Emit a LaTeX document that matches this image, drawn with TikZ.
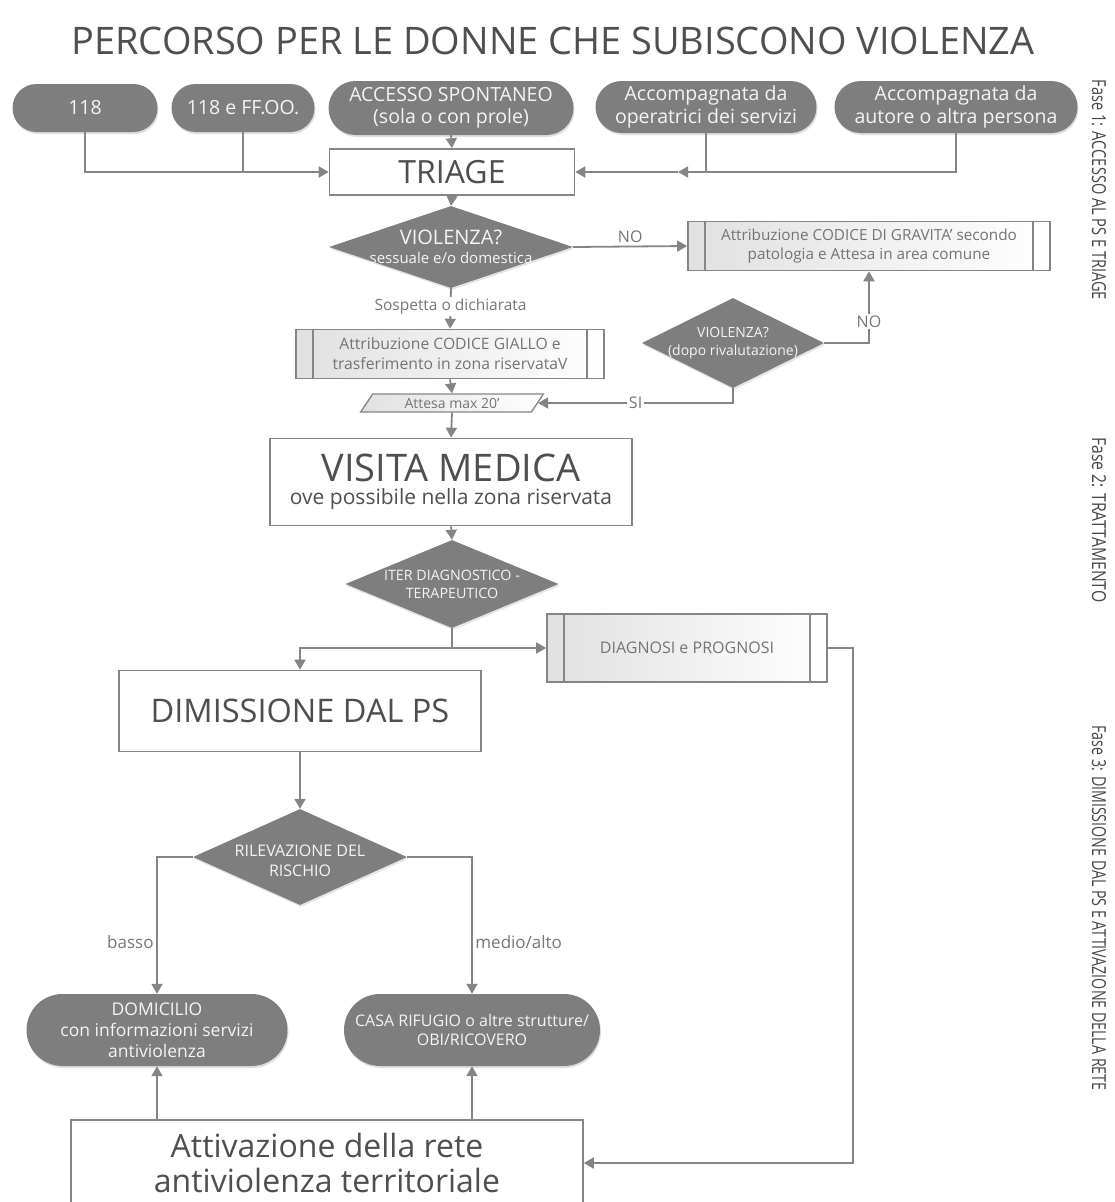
\documentclass[tikz,border=0pt]{standalone}
\usepackage{fontspec}
\setmainfont{Open Sans}
\usetikzlibrary{shapes.geometric,shapes.misc,arrows.meta,calc,shadows}
\definecolor{ovalgray}{HTML}{7E7E7E}
\definecolor{linegray}{HTML}{858585}
\definecolor{txtgray}{HTML}{4F4F4F}
\definecolor{lbltxt}{HTML}{777777}
\definecolor{proctxt}{HTML}{747474}
\definecolor{ovaltxt}{HTML}{F4F4F4}
\newcommand{\fsz}[2]{\fontsize{#1}{#2}\selectfont}
\tikzset{
 ln/.style={draw=linegray, line width=1.8pt},
 arr/.style={ln, -{Triangle[length=10pt,width=11pt]}},
 oval/.style={shape=rounded rectangle, fill=ovalgray, draw=none, text=ovaltxt, align=center, inner sep=0pt,
   drop shadow={opacity=0.25, shadow xshift=1pt, shadow yshift=-2pt}},
 box/.style={rectangle, draw=linegray, line width=1.6pt, fill=white, text=txtgray, align=center, inner sep=0pt},
 proc/.style={box, left color=black!12, right color=white, text=proctxt,
   path picture={\draw[linegray, line width=1.5pt]
     ([xshift=17pt]path picture bounding box.north west) -- ([xshift=17pt]path picture bounding box.south west)
     ([xshift=-17pt]path picture bounding box.north east) -- ([xshift=-17pt]path picture bounding box.south east);}},
 dia/.style={diamond, fill=ovalgray, draw=none, inner sep=0pt,
   drop shadow={opacity=0.2, shadow xshift=1pt, shadow yshift=-2pt}},
 dtxt/.style={text=ovaltxt, align=center},
 lbl/.style={text=lbltxt, inner sep=1.5pt},
 side/.style={rotate=-90, text=black!72, inner sep=0pt},
}
\begin{document}
\begin{tikzpicture}[x=1pt,y=-1pt]
\useasboundingbox (0,0) rectangle (1114,1202);
\clip (0,0) rectangle (1114,1202);
\fill[white] (0,0) rectangle (1114,1202);

% title
\node[text=txtgray, inner sep=0pt] (title) at (553,41)
  {\resizebox{963pt}{!}{\fsz{34}{40}PERCORSO PER LE DONNE CHE SUBISCONO VIOLENZA}};

% side labels
\node[side] (f1) at (1099,190) {\resizebox{220pt}{14pt}{\fsz{20}{24}Fase 1: ACCESSO AL PS E TRIAGE}};
\node[side] (f2) at (1099,520) {\resizebox{165pt}{14pt}{\fsz{20}{24}Fase 2: TRATTAMENTO}};
\node[side] (f3) at (1099,908) {\resizebox{365pt}{14pt}{\fsz{20}{24}Fase 3: DIMISSIONE DAL PS E ATTIVAZIONE DELLA RETE}};

% top row
\tikzset{toptxt/.style={font=\fsz{19.5}{22.5}}}
\node[oval, toptxt, minimum width=145pt, minimum height=48pt] (o118) at (85,108) {118};
\node[oval, toptxt, minimum width=143pt, minimum height=48pt] (oFF) at (243,108) {118 e FF.OO.};
\node[oval, toptxt, minimum width=245pt, minimum height=54pt] (oAcc) at (451,108) {ACCESSO SPONTANEO\\(sola o con prole)};
\node[oval, toptxt, minimum width=221pt, minimum height=52pt] (oOpe) at (706,107) {Accompagnata da\\operatrici dei servizi};
\node[oval, toptxt, minimum width=243pt, minimum height=52pt] (oAut) at (956,107) {Accompagnata da\\autore o altra persona};

\node[box, minimum width=245pt, minimum height=46pt, font=\fsz{32}{36}] (tri) at (452,172) {TRIAGE};

\coordinate (jn) at (678,172);
\draw[arr] (o118.south) |- (tri.west);
\draw[ln] (oFF.south) -- (oFF.south |- tri.west);
\draw[arr] (oAcc.south) -- (tri.north);
\draw[arr] (oAut.south) |- (jn);
\draw[ln] (oOpe.south) -- (oOpe.south |- jn);
\draw[arr] (jn) -- (tri.east);

% violenza 1
\node[dia, minimum width=244pt, minimum height=82pt,
  label={[dtxt, font=\fsz{15}{19.5}]center:{{\fsz{20}{22}VIOLENZA?}\\sessuale e/o domestica}}] (d1) at (451,247) {};
\draw[arr] (tri.south) -- (d1.north);

\node[proc, minimum width=362pt, minimum height=49pt, font=\fsz{15.3}{19}] (grav) at (869,246)
  {Attribuzione CODICE DI GRAVITA' secondo\\patologia e Attesa in area comune};
\draw[arr] (d1.east) -- node[lbl, above=1pt, font=\fsz{16}{18}] {NO} (grav.west);

\node[proc, minimum width=308pt, minimum height=49pt, font=\fsz{15.7}{20}] (giallo) at (450,354)
  {Attribuzione CODICE GIALLO e\\trasferimento in zona riservataV};
\draw[arr] (d1.south) -- node[lbl, fill=white, pos=0.45, font=\fsz{15.5}{18}] {Sospetta o dichiarata} (giallo.north);

\node[dia, minimum width=182pt, minimum height=90pt,
  label={[dtxt, font=\fsz{14}{18}]center:{VIOLENZA?\\(dopo rivalutazione)}}] (d2) at (733,343) {};
\draw[arr] (d2.east) -| node[lbl, fill=white, pos=0.65, font=\fsz{16}{18}] {NO} (grav.south);

\node[trapezium, trapezium left angle=55, trapezium right angle=125, trapezium stretches=true,
  minimum width=183pt, minimum height=18pt, inner sep=0pt, draw=linegray, line width=1.3pt,
  left color=black!12, right color=white, text=proctxt, font=\fsz{14}{16}] (att20) at (452,403) {Attesa max 20'};
\draw[arr] (giallo.south) -- (att20.north);
\draw[arr] (d2.south) |- node[lbl, fill=white, pos=0.75, font=\fsz{16}{18}] {SI} (att20.east);

% visita
\node[box, minimum width=362pt, minimum height=87pt, font=\fsz{21}{26}] (vis) at (451,482)
  {{\fsz{38}{42}VISITA MEDICA}\\[-3pt]ove possibile nella zona riservata};
\draw[arr] (att20.south) -- (vis.north);

\node[dia, minimum width=213pt, minimum height=88pt,
  label={[dtxt, font=\fsz{14.3}{18}]center:{ITER DIAGNOSTICO -\\TERAPEUTICO}}] (d3) at (452,584) {};
\draw[arr] (vis.south) -- (d3.north);

\node[proc, minimum width=280pt, minimum height=68pt, font=\fsz{16}{18}] (diag) at (687,648) {DIAGNOSI e PROGNOSI};
\node[box, minimum width=362pt, minimum height=81pt, font=\fsz{32.5}{36}] (dim) at (300,711) {DIMISSIONE DAL PS};

\coordinate (br) at (d3.south |- diag.west);
\draw[ln] (d3.south) -- (br);
\draw[arr] (br) -| (dim.north);
\draw[arr] (br) -- (diag.west);

% rischio
\node[dia, minimum width=214pt, minimum height=96pt,
  label={[dtxt, font=\fsz{16}{20}, yshift=-4pt]center:{RILEVAZIONE DEL\\RISCHIO}}] (d4) at (300,857) {};
\draw[arr] (dim.south) -- (d4.north);

\node[oval, minimum width=261pt, minimum height=72pt, font=\fsz{17.5}{21}] (dom) at (157,1030)
  {DOMICILIO\\con informazioni servizi\\antiviolenza};
\node[oval, minimum width=256pt, minimum height=72pt, font=\fsz{16}{19}] (cas) at (472,1030)
  {CASA RIFUGIO o altre strutture/\\OBI/RICOVERO};

\draw[arr] (d4.west) -| node[lbl, left=1pt, pos=0.81, font=\fsz{17}{19}] {basso} (dom.north);
\draw[arr] (d4.east) -| node[lbl, right=1pt, pos=0.81, font=\fsz{17}{19}] {medio/alto} (cas.north);

\node[box, minimum width=512pt, minimum height=86pt, font=\fsz{32}{35}] (att) at (327,1163)
  {Attivazione della rete\\antiviolenza territoriale};
\draw[arr] (dom.south |- att.north) -- (dom.south);
\draw[arr] (cas.south |- att.north) -- (cas.south);
\draw[arr] (diag.east) -- ++(25,0) |- (att.east);
\end{tikzpicture}
\end{document}
